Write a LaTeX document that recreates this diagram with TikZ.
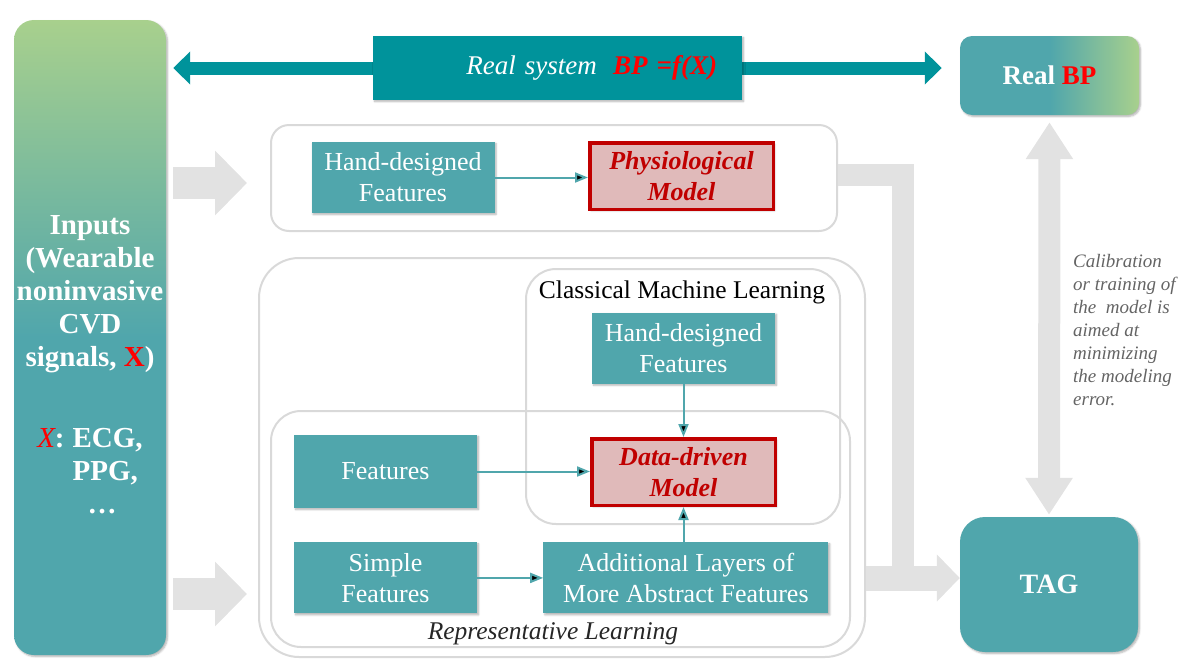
\documentclass[tikz,border=0pt]{standalone}
\usepackage{fontspec}
\setmainfont{Liberation Serif}
\usetikzlibrary{arrows.meta,positioning,shadows.blur}
\definecolor{tealbox}{RGB}{80,166,172}
\definecolor{tealdark}{RGB}{0,147,155}
\definecolor{greenbar}{RGB}{168,208,141}
\definecolor{modelfill}{RGB}{224,186,186}
\definecolor{modelred}{RGB}{192,0,0}
\definecolor{frame}{RGB}{217,217,217}
\definecolor{bigarrow}{RGB}{226,226,226}
\definecolor{notegray}{RGB}{100,100,100}

\begin{document}
\begin{tikzpicture}[x=1pt,y=-1pt,
  soft/.style={blur shadow={shadow blur steps=5,shadow xshift=1.5pt,shadow yshift=-1.5pt,shadow opacity=30}},
  feat/.style={soft,fill=tealbox,text=white,align=center,font=\fontsize{26}{31}\selectfont,
    minimum width=183pt,minimum height=71pt,inner sep=0pt},
  model/.style={soft,fill=modelfill,draw=modelred,line width=3.5pt,text=modelred,align=center,
    font=\fontsize{26}{31}\selectfont\bfseries\itshape,minimum width=183.5pt,minimum height=66.5pt,inner sep=0pt},
  group/.style={draw=frame,line width=2pt,inner sep=0pt},
  conn/.style={-{Triangle[length=13pt,width=10pt]},draw=tealbox,line width=2pt},
  block/.style={draw=bigarrow,line width=32pt,-{Triangle[length=32pt,width=63pt]}},
  bar/.style={soft,rounded corners=20pt,minimum width=152pt,minimum height=635pt,
    top color=greenbar,bottom color=tealbox,middle color=tealbox},
  inputtext/.style={text=white,align=center,inner sep=0pt,font=\fontsize{29}{33}\selectfont\bfseries}]

  \useasboundingbox (0,0) rectangle (1179,662);

  % frames
  \node[group,rounded corners=18pt,minimum width=566pt,minimum height=106pt] (physBox) at (554,178) {};
  \node[group,rounded corners=40pt,minimum width=606pt,minimum height=399pt] (dlBox) at (562,457.5) {};
  \node[group,rounded corners=30pt,minimum width=314pt,minimum height=255pt] (cmlBox) at (683,396.5) {};
  \node[group,rounded corners=30pt,minimum width=579pt,minimum height=236pt] (rlBox) at (560.5,529) {};

  % inputs, real BP and TAG
  \node[bar] (inputs) at (90,337.5) {};
  \node[inputtext,anchor=north] (inputsText) at (90,215)
    {Inputs\\(Wearable\\noninvasive\\CVD\\signals, \textcolor{red}{X})\\[48pt]%
     \begin{tabular}[t]{@{}r@{}l@{}}\textcolor{red}{\mdseries\itshape X}:\kern8pt & ECG,\\ & PPG,\\ & \hspace{15pt}\dots\end{tabular}};
  \node[soft,rounded corners=12pt,minimum width=179pt,minimum height=79pt,
    left color=tealbox,right color=greenbar,middle color=tealbox,text=white,
    font=\fontsize{27}{31}\selectfont\bfseries] (realbp) at (1049.5,75.5) {Real \textcolor{red}{BP}};
  \node[soft,rounded corners=25pt,fill=tealbox,minimum width=178pt,minimum height=135pt,text=white,
    font=\fontsize{28}{32}\selectfont\bfseries] (tag) at (1049,584.5) {TAG};

  % real system
  \coordinate (sysC) at (557.5,68);
  \draw[draw=tealdark,line width=13pt,{Triangle[length=17pt,width=32pt]}-{Triangle[length=17pt,width=32pt]},
    shorten <=7pt,shorten >=18pt] (inputs.east |- sysC) -- (realbp.west |- sysC);
  \node[soft,fill=tealdark,minimum width=369pt,minimum height=64pt,text width=319pt,align=right,
    inner xsep=25pt,inner ysep=0pt,text=white,font=\fontsize{27}{31}\selectfont] (realsys) at (sysC)
    {\textit{Real system}\hspace{0.6em}\textcolor{red}{\bfseries\itshape BP =f(X)}};

  % big grey arrows
  \coordinate (upY) at (0,183);
  \coordinate (lowY) at (0,594);
  \coordinate (bandTop) at (903,174.5);
  \coordinate (tagY) at (0,578);
  \draw[block] ([xshift=7pt]inputs.east |- upY) -- ([xshift=-23pt]physBox.west |- upY);
  \draw[block] ([xshift=7pt]inputs.east |- lowY) -- ([xshift=-11pt]dlBox.west |- lowY);
  \draw[draw=bigarrow,line width=22pt] (physBox.east |- bandTop) -- (bandTop) -- (bandTop |- tagY);
  \draw[draw=bigarrow,line width=25pt,-{Triangle[length=23pt,width=46pt]}] (dlBox.east |- tagY) -- (tag.west |- tagY);
  \draw[draw=bigarrow,line width=22pt,{Triangle[length=37pt,width=45pt]}-{Triangle[length=37pt,width=45pt]},
    shorten <=7pt,shorten >=2pt] (realbp.south) -- (tag.north);

  % physiological branch
  \node[feat] (hdfA) at (403,177.5) {Hand-designed\\Features};
  \node[model] (physModel) at (681.5,176) {Physiological\\Model};

  % learning branch
  \node[font=\fontsize{25.5}{30}\selectfont] (cmlLabel) at (682,292) {Classical Machine Learning};
  \node[model] (ddModel) at (683.5,472) {Data-driven\\Model};
  \node[feat] (hdfB) [above=53pt of ddModel] {Hand-designed\\Features};
  \node[feat,minimum height=73pt] (features) at (385.5,471.5) {Features};
  \node[feat] (simple) [below=34pt of features] {Simple\\Features};
  \node[feat,minimum width=285pt] (layers) [right=66pt of simple] {Additional Layers of\\More Abstract Features};
  \node[font=\fontsize{25.5}{30}\selectfont\itshape,text={rgb,255:red,38;green,38;blue,38}] (rlLabel) at (553,634) {Representative Learning};

  \path[conn]
    (hdfA.east) edge (physModel.west |- hdfA.east)
    (hdfB) edge (ddModel)
    (features.east) edge (ddModel.west |- features.east)
    (simple) edge (layers)
    (layers.north -| ddModel) edge (ddModel.south);

  % note
  \node[font=\fontsize{19}{23}\selectfont\itshape,text=notegray,align=left,anchor=north west,inner sep=0pt] (calib) at (1073,254)
    {Calibration\\or training of\\the\ \ model is\\aimed at\\minimizing\\the modeling\\error.};
\end{tikzpicture}
\end{document}
